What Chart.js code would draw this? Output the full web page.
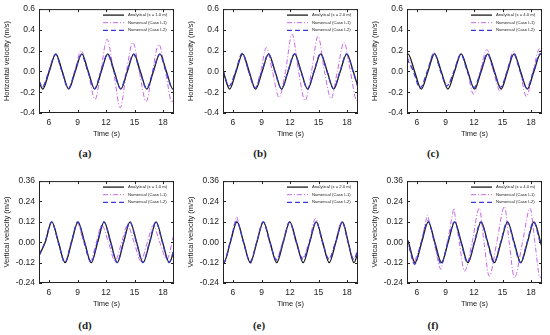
<!DOCTYPE html>
<html>
<head>
<meta charset="UTF-8">
<title>Horizontal and vertical velocity</title>
<script src="https://cdn.jsdelivr.net/npm/chart.js@4.4.1/dist/chart.umd.min.js"></script>
<style>
    body { margin: 0; background: #fff; }
    #wrap { position: relative; width: 550px; height: 335px; overflow: hidden; }
    #wrap canvas { position: absolute; }
    .cap { position: absolute; width: 40px; margin-left: -20px; text-align: center;
           font: bold 11px "Liberation Serif", "DejaVu Serif", serif; color: #222; }
</style>
</head>
<body>
<div id="wrap">
    <canvas id="ca" width="178" height="140" style="left:0;top:0"></canvas>
    <canvas id="cb" width="178" height="140" style="left:184px;top:0"></canvas>
    <canvas id="cc" width="178" height="140" style="left:368px;top:0"></canvas>
    <canvas id="cd" width="178" height="138" style="left:0;top:172px"></canvas>
    <canvas id="ce" width="178" height="138" style="left:184px;top:172px"></canvas>
    <canvas id="cf" width="178" height="138" style="left:368px;top:172px"></canvas>
    <div class="cap" style="left:85px;top:147px">(a)</div>
    <div class="cap" style="left:260px;top:147px">(b)</div>
    <div class="cap" style="left:433px;top:147px">(c)</div>
    <div class="cap" style="left:85px;top:319px">(d)</div>
    <div class="cap" style="left:259px;top:319px">(e)</div>
    <div class="cap" style="left:433px;top:319px">(f)</div>
</div>

<script>
// axis ticks
const xTicks = [6, 9, 12, 15, 18];
const hTicks = [-0.4, -0.2, 0.0, 0.2, 0.4, 0.6];
const vTicks = [-0.24, -0.12, 0.0, 0.12, 0.24, 0.36];
const gaugeX = ['1.0', '2.0', '4.0'];

// (a) horizontal velocity, x = 1.0 m
const aAnaT = [4.95, 5.35, 6.03, 6.72, 7.40, 8.08, 8.76, 9.45, 10.13, 10.82, 11.50, 12.19, 12.87, 13.56, 14.24, 14.93, 15.61, 16.30, 16.98, 17.67, 18.35, 19.04, 19.15];
const aAnaV = [-0.10, -0.17, 0.00, 0.17, 0.00, -0.17, 0.00, 0.17, 0.00, -0.17, 0.00, 0.17, 0.00, -0.17, 0.00, 0.17, 0.00, -0.17, 0.00, 0.17, 0.00, -0.17, -0.165];
const aI1T = [4.95, 5.30, 5.98, 6.68, 7.36, 8.02, 8.70, 9.38, 10.10, 10.85, 11.45, 12.10, 12.80, 13.50, 14.15, 14.82, 15.50, 16.22, 16.88, 17.55, 18.25, 18.95, 19.15];
const aI1V = [-0.09, -0.15, 0.00, 0.16, 0.00, -0.16, 0.00, 0.20, 0.00, -0.27, 0.00, 0.31, 0.00, -0.35, 0.00, 0.28, 0.00, -0.29, 0.00, 0.26, 0.00, -0.30, -0.26];
const aI2T = [4.95, 5.30, 5.98, 6.68, 7.36, 8.04, 8.72, 9.41, 10.09, 10.78, 11.46, 12.15, 12.83, 13.52, 14.20, 14.89, 15.57, 16.26, 16.94, 17.63, 18.31, 19.00, 19.15];
const aI2V = [-0.09, -0.15, 0.00, 0.165, 0.00, -0.165, 0.00, 0.16, 0.00, -0.165, 0.00, 0.165, 0.00, -0.165, 0.00, 0.165, 0.00, -0.165, 0.00, 0.165, 0.00, -0.165, -0.16];

// (b) horizontal velocity, x = 2.0 m
const bAnaT = [4.95, 5.65, 6.33, 7.02, 7.70, 8.38, 9.07, 9.75, 10.43, 11.12, 11.80, 12.49, 13.17, 13.86, 14.54, 15.23, 15.91, 16.60, 17.28, 17.97, 18.65, 19.15];
const bAnaV = [0.01, -0.17, 0.00, 0.17, 0.00, -0.17, 0.00, 0.17, 0.00, -0.17, 0.00, 0.17, 0.00, -0.17, 0.00, 0.17, 0.00, -0.17, 0.00, 0.17, 0.00, -0.15];
const bI1T = [4.95, 5.58, 6.28, 6.97, 7.62, 8.28, 8.92, 9.50, 10.15, 10.85, 11.52, 12.22, 12.90, 13.58, 14.26, 14.95, 15.62, 16.32, 16.98, 17.68, 18.35, 19.02, 19.15];
const bI1V = [0.01, -0.15, 0.00, 0.17, 0.00, -0.16, 0.00, 0.23, 0.00, -0.25, 0.00, 0.36, 0.00, -0.28, 0.00, 0.34, 0.00, -0.26, 0.00, 0.28, 0.00, -0.28, -0.26];
const bI2T = [4.95, 5.58, 6.28, 6.97, 7.66, 8.34, 9.03, 9.72, 10.40, 11.09, 11.77, 12.46, 13.14, 13.83, 14.51, 15.20, 15.88, 16.57, 17.25, 17.94, 18.62, 19.15];
const bI2V = [0.01, -0.14, 0.00, 0.175, 0.00, -0.16, 0.00, 0.17, 0.00, -0.165, 0.00, 0.17, 0.00, -0.165, 0.00, 0.17, 0.00, -0.165, 0.00, 0.17, 0.00, -0.15];

// (c) horizontal velocity, x = 4.0 m
const cAnaT = [4.95, 5.05, 5.75, 6.45, 7.15, 7.85, 8.55, 9.25, 9.95, 10.65, 11.35, 12.05, 12.75, 13.45, 14.15, 14.85, 15.52, 16.20, 16.90, 17.60, 18.30, 19.00, 19.15];
const cAnaV = [0.168, 0.17, 0.00, -0.17, 0.00, 0.17, 0.00, -0.17, 0.00, 0.17, 0.00, -0.17, 0.00, 0.17, 0.00, -0.17, 0.00, 0.17, 0.00, -0.17, 0.00, 0.17, 0.165];
const cI1T = [4.95, 5.65, 6.40, 7.10, 7.80, 8.50, 9.20, 9.90, 10.60, 11.30, 11.95, 12.65, 13.35, 14.05, 14.75, 15.45, 16.15, 16.85, 17.50, 18.20, 18.90, 19.15];
const cI1V = [0.15, 0.00, -0.15, 0.00, 0.18, 0.00, -0.13, 0.00, 0.17, 0.00, -0.22, 0.00, 0.21, 0.00, -0.19, 0.00, 0.19, 0.00, -0.24, 0.00, 0.22, 0.17];
const cI2T = [4.95, 5.62, 6.32, 7.08, 7.80, 8.48, 9.15, 9.88, 10.60, 11.30, 12.00, 12.70, 13.40, 14.10, 14.80, 15.48, 16.15, 16.85, 17.55, 18.25, 18.95, 19.15];
const cI2V = [0.125, 0.00, -0.16, 0.00, 0.175, 0.00, -0.14, 0.00, 0.165, 0.00, -0.155, 0.00, 0.17, 0.00, -0.15, 0.00, 0.17, 0.00, -0.16, 0.00, 0.17, 0.15];

// (d) vertical velocity, x = 1.0 m
const dAnaT = [4.95, 5.60, 6.30, 7.00, 7.70, 8.38, 9.05, 9.75, 10.45, 11.12, 11.80, 12.50, 13.18, 13.85, 14.53, 15.22, 15.90, 16.60, 17.27, 17.95, 18.65, 19.15];
const dAnaV = [-0.08, 0.00, 0.12, 0.00, -0.12, 0.00, 0.12, 0.00, -0.12, 0.00, 0.12, 0.00, -0.12, 0.00, 0.12, 0.00, -0.12, 0.00, 0.12, 0.00, -0.12, -0.05];
const dI1T = [4.95, 5.60, 6.28, 6.98, 7.68, 8.34, 8.98, 9.65, 10.35, 10.98, 11.55, 12.25, 12.95, 13.65, 14.25, 14.95, 15.65, 16.35, 16.98, 17.65, 18.40, 19.15];
const dI1V = [-0.08, 0.00, 0.12, 0.00, -0.12, 0.00, 0.11, 0.00, -0.11, 0.00, 0.10, 0.00, -0.11, 0.00, 0.10, 0.00, -0.11, 0.00, 0.10, 0.00, -0.10, 0.05];
const dI2T = [4.95, 5.58, 6.27, 6.97, 7.67, 8.35, 9.02, 9.72, 10.42, 11.09, 11.77, 12.47, 13.15, 13.82, 14.50, 15.19, 15.87, 16.57, 17.24, 17.92, 18.62, 19.15];
const dI2V = [-0.075, 0.00, 0.12, 0.00, -0.12, 0.00, 0.12, 0.00, -0.12, 0.00, 0.12, 0.00, -0.12, 0.00, 0.12, 0.00, -0.12, 0.00, 0.12, 0.00, -0.12, -0.04];

// (e) vertical velocity, x = 2.0 m
const eAnaT = [4.95, 5.03, 5.72, 6.42, 7.12, 7.82, 8.51, 9.20, 9.90, 10.60, 11.29, 11.98, 12.68, 13.38, 14.07, 14.76, 15.44, 16.12, 16.82, 17.52, 18.12, 18.72, 19.15];
const eAnaV = [-0.118, -0.12, 0.00, 0.12, 0.00, -0.12, 0.00, 0.12, 0.00, -0.12, 0.00, 0.12, 0.00, -0.12, 0.00, 0.12, 0.00, -0.12, 0.00, 0.12, 0.00, -0.12, -0.06];
const eI1T = [4.95, 5.05, 5.72, 6.25, 6.40, 6.55, 7.10, 7.70, 7.85, 8.00, 8.50, 9.15, 9.85, 10.55, 11.22, 11.95, 12.62, 13.30, 14.00, 14.68, 15.38, 16.05, 16.75, 17.45, 18.10, 18.70, 19.15];
const eI1V = [-0.11, -0.12, 0.00, 0.13, 0.15, 0.12, 0.00, -0.11, -0.13, -0.10, 0.00, 0.12, 0.00, -0.10, 0.00, 0.12, 0.00, -0.09, 0.00, 0.14, 0.00, -0.10, 0.00, 0.12, 0.00, -0.10, -0.03];
const eI2T = [4.95, 5.02, 5.70, 6.40, 7.10, 7.80, 8.49, 9.18, 9.88, 10.58, 11.27, 11.96, 12.66, 13.36, 14.05, 14.74, 15.42, 16.10, 16.80, 17.50, 18.10, 18.70, 19.15];
const eI2V = [-0.115, -0.12, 0.00, 0.125, 0.00, -0.115, 0.00, 0.12, 0.00, -0.105, 0.00, 0.12, 0.00, -0.10, 0.00, 0.12, 0.00, -0.10, 0.00, 0.12, 0.00, -0.10, -0.05];

// (f) vertical velocity, x = 4.0 m
const fAnaT = [4.95, 5.10, 5.80, 6.50, 7.19, 7.88, 8.58, 9.28, 9.97, 10.66, 11.36, 12.06, 12.75, 13.44, 14.14, 14.84, 15.53, 16.22, 16.92, 17.62, 18.31, 19.00, 19.15];
const fAnaV = [0.02, 0.00, -0.12, 0.00, 0.12, 0.00, -0.12, 0.00, 0.12, 0.00, -0.12, 0.00, 0.12, 0.00, -0.12, 0.00, 0.12, 0.00, -0.12, 0.00, 0.12, 0.00, -0.03];
const fI1T = [4.95, 5.10, 5.55, 5.70, 5.85, 6.45, 6.95, 7.10, 7.25, 7.80, 8.35, 8.50, 8.65, 9.20, 9.75, 9.88, 10.00, 10.45, 11.00, 11.80, 12.55, 13.05, 13.60, 14.40, 15.20, 15.70, 16.25, 17.10, 17.90, 18.40, 18.95, 19.15];
const fI1V = [0.02, -0.02, -0.10, -0.13, -0.10, 0.00, 0.13, 0.16, 0.13, 0.00, -0.14, -0.16, -0.13, 0.00, 0.17, 0.20, 0.16, 0.00, -0.17, 0.00, 0.20, 0.00, -0.20, 0.00, 0.21, 0.00, -0.21, 0.00, 0.20, 0.00, -0.21, -0.19];
const fI2T = [4.95, 5.08, 5.75, 6.45, 7.15, 7.85, 8.55, 9.24, 9.93, 10.62, 11.32, 12.02, 12.71, 13.40, 14.10, 14.80, 15.49, 16.18, 16.88, 17.58, 18.27, 18.96, 19.15];
const fI2V = [0.02, 0.00, -0.13, 0.00, 0.125, 0.00, -0.13, 0.00, 0.12, 0.00, -0.12, 0.00, 0.12, 0.00, -0.12, 0.00, 0.12, 0.00, -0.12, 0.00, 0.12, 0.00, -0.02];

const FONT = '"Liberation Sans", Arial, sans-serif';

function pts(t, v) {
    return t.map((x, i) => ({ x: x, y: v[i] }));
}

// frame with inward ticks + small legend in the top right corner
const framePlugin = {
    id: 'frame',
    afterDraw(chart) {
        const { ctx, chartArea: a, scales } = chart;
        const seg = (x1, y1, x2, y2) => { ctx.beginPath(); ctx.moveTo(x1, y1); ctx.lineTo(x2, y2); ctx.stroke(); };
        ctx.save();
        ctx.strokeStyle = '#222';
        ctx.lineWidth = 1;
        ctx.setLineDash([]);
        ctx.strokeRect(a.left + 0.5, a.top + 0.5, a.width - 1, a.height - 1);
        scales.x.ticks.forEach(t => {
            const px = Math.round(scales.x.getPixelForValue(t.value)) + 0.5;
            seg(px, a.bottom, px, a.bottom - 3);
            seg(px, a.top, px, a.top + 3);
        });
        scales.y.ticks.forEach(t => {
            const py = Math.round(scales.y.getPixelForValue(t.value)) + 0.5;
            seg(a.left, py, a.left + 3, py);
            seg(a.right, py, a.right - 3, py);
        });
        ctx.font = '4.2px ' + FONT;
        ctx.textBaseline = 'middle';
        chart.data.datasets.forEach((ds, i) => {
            const y = a.top + 6 + i * 7.6;
            ctx.strokeStyle = ds.borderColor;
            ctx.lineWidth = ds.borderWidth;
            ctx.setLineDash(ds.borderDash || []);
            seg(a.right - 71, y, a.right - 50, y);
            ctx.setLineDash([]);
            ctx.fillStyle = '#222';
            ctx.fillText(ds.label, a.right - 46, y);
        });
        ctx.restore();
    }
};

function makeChart(id, series, gauge, vertical) {
    const yTicks = vertical ? vTicks : hTicks;
    new Chart(document.getElementById(id), {
        type: 'line',
        data: {
            datasets: [
                {
                    label: 'Analytical (x = ' + gauge + ' m)',
                    data: pts(series[0], series[1]),
                    borderColor: '#1c1c1c',
                    borderWidth: 1.3,
                    order: 2
                },
                {
                    label: 'Numerical (Case I-1)',
                    data: pts(series[2], series[3]),
                    borderColor: '#c468e6',
                    borderWidth: 1,
                    borderDash: [5, 2, 1, 2],
                    order: 3
                },
                {
                    label: 'Numerical (Case I-2)',
                    data: pts(series[4], series[5]),
                    borderColor: '#3b3bd2',
                    borderWidth: 1.2,
                    borderDash: [5, 3],
                    order: 1
                }
            ]
        },
        options: {
            responsive: false,
            animation: false,
            devicePixelRatio: 1,
            layout: { padding: { top: 7, right: 4, left: 0, bottom: 0 } },
            elements: {
                point: { radius: 0 },
                line: { cubicInterpolationMode: 'monotone', fill: false }
            },
            plugins: { legend: { display: false }, tooltip: { enabled: false } },
            scales: {
                x: {
                    type: 'linear',
                    min: 4.95,
                    max: 19.15,
                    afterBuildTicks: s => { s.ticks = xTicks.map(v => ({ value: v })); },
                    afterFit: s => { s.height = 27; },
                    grid: { display: false, drawTicks: false },
                    border: { display: false },
                    ticks: { padding: 5, color: '#222', font: { size: 8.5, family: FONT }, maxRotation: 0 },
                    title: { display: true, text: 'Time (s)', color: '#222', font: { size: 7.5, family: FONT }, padding: { top: 0, bottom: 2 } }
                },
                y: {
                    min: yTicks[0],
                    max: yTicks[yTicks.length - 1],
                    afterBuildTicks: s => { s.ticks = yTicks.map(v => ({ value: v })); },
                    afterFit: s => { s.width = 39; },
                    grid: { display: false, drawTicks: false },
                    border: { display: false },
                    ticks: {
                        padding: 4, color: '#222', font: { size: 8.5, family: FONT },
                        callback: v => v.toFixed(vertical ? 2 : 1)
                    },
                    title: {
                        display: true,
                        text: vertical ? 'Vertical velocity (m/s)' : 'Horizontal velocity (m/s)',
                        color: '#222', font: { size: 7.5, family: FONT }, padding: { top: 2, bottom: 2 }
                    }
                }
            }
        },
        plugins: [framePlugin]
    });
}

makeChart('ca', [aAnaT, aAnaV, aI1T, aI1V, aI2T, aI2V], gaugeX[0], false);
makeChart('cb', [bAnaT, bAnaV, bI1T, bI1V, bI2T, bI2V], gaugeX[1], false);
makeChart('cc', [cAnaT, cAnaV, cI1T, cI1V, cI2T, cI2V], gaugeX[2], false);
makeChart('cd', [dAnaT, dAnaV, dI1T, dI1V, dI2T, dI2V], gaugeX[0], true);
makeChart('ce', [eAnaT, eAnaV, eI1T, eI1V, eI2T, eI2V], gaugeX[1], true);
makeChart('cf', [fAnaT, fAnaV, fI1T, fI1V, fI2T, fI2V], gaugeX[2], true);
</script>
</body>
</html>
